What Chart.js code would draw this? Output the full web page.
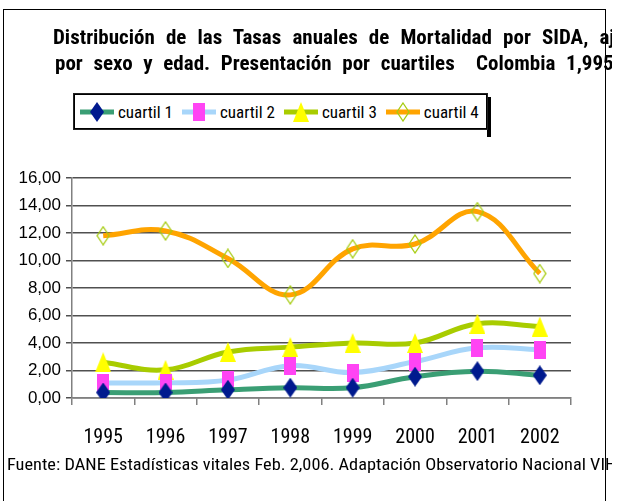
<!DOCTYPE html>
<html>
<head>
<meta charset="utf-8">
<script src="https://cdn.jsdelivr.net/npm/chart.js@4.4.1/dist/chart.umd.min.js"></script>
<style>
  body { margin: 0; background: #fff; }
  #wrap { position: relative; width: 617px; height: 501px; overflow: hidden; }
  #c { position: absolute; left: 0; top: 0; }
  #frame { position: absolute; left: 3px; top: 9px; width: 603px; height: 500px; box-sizing: border-box;
           border: 1px solid #000; pointer-events: none; }
  #clip { position: absolute; left: 0; top: 0; width: 612px; height: 501px; overflow: hidden; pointer-events: none; }
  .title { position: absolute; white-space: nowrap; font: bold 21px "Roboto Condensed", sans-serif; color: #000; }
  #foot { position: absolute; left: 7px; top: 454px; white-space: nowrap; font: 17px "Roboto Condensed", sans-serif;
          transform-origin: 0 0; }
  #legshadow { position: absolute; left: 487px; top: 97px; width: 4px; height: 40px; background: #000; }
  #legout { position: absolute; left: 74px; top: 94px; width: 413px; height: 35px; background: #000;
            outline: 1px solid #222; }
  #legend { position: absolute; left: 1px; top: 1px; right: 1px; bottom: 1px; background: #fff; overflow: hidden;
            display: flex; align-items: center; padding-left: 5px; }
  .item { display: flex; align-items: center; margin-right: 9px; flex-shrink: 0; }
  .item span { font: 17px "Roboto Condensed", sans-serif; margin-left: 4px; white-space: nowrap; }
</style>
</head>
<body>
<div id="wrap">
  <canvas id="c" width="617" height="501"></canvas>
  <div id="frame"></div>
  <div id="legshadow"></div>
  <div id="legout"><div id="legend"></div></div>
  <div id="clip">
    <div class="title" id="t1" style="left:53px; top:25px;">Distribución de las Tasas anuales de Mortalidad por SIDA, ajustadas</div>
    <div class="title" id="t2" style="left:55px; top:51px;">por sexo y edad. Presentación por cuartiles&nbsp; Colombia 1,995 - 2,002</div>
    <div id="foot">Fuente: DANE Estadísticas vitales Feb. 2,006. Adaptación Observatorio Nacional VIH</div>
  </div>
</div>
<script>
const years = ['1995', '1996', '1997', '1998', '1999', '2000', '2001', '2002'];
const cuartil1 = [0.4, 0.4, 0.6, 0.75, 0.75, 1.55, 1.95, 1.65];
const cuartil2 = [1.1, 1.1, 1.3, 2.35, 1.85, 2.65, 3.65, 3.5];
const cuartil3 = [2.6, 2.05, 3.35, 3.7, 4.0, 4.0, 5.4, 5.2];
const cuartil4 = [11.8, 12.15, 10.15, 7.5, 10.85, 11.2, 13.55, 9.05];
const yTicks = [0, 2, 4, 6, 8, 10, 12, 14, 16];

// stretch the title lines / footnote the way the original text box spreads them
const mc = document.createElement('canvas').getContext('2d');
function spread(el, prefix, target) {
  const cs = getComputedStyle(el);
  mc.font = cs.fontWeight + ' ' + cs.fontSize + ' ' + cs.fontFamily;
  const w = mc.measureText(prefix).width;
  const gaps = prefix.split(' ').length - 1;
  el.style.wordSpacing = ((target - w) / gaps).toFixed(2) + 'px';
}
spread(document.getElementById('t1'), 'Distribución de las Tasas anuales de Mortalidad por SIDA, ', 547);
spread(document.getElementById('t2'), 'por sexo y edad. Presentación por cuartiles  Colombia 1,99', 548);
(function () {
  const el = document.getElementById('foot');
  mc.font = '17px "Roboto Condensed"';
  const w = mc.measureText('Fuente: DANE Estadísticas vitales Feb. 2,006. Adaptación Observatorio Nacional ').width;
  el.style.transform = 'scaleX(' + (583 / w).toFixed(3) + ')';
})();

function marker(w, h, draw) {
  const c = document.createElement('canvas');
  c.width = w; c.height = h;
  draw(c.getContext('2d'), w, h);
  return c;
}
function diamondPath(g, w, h, i) {
  g.beginPath();
  g.moveTo(w / 2, i); g.lineTo(w - i, h / 2); g.lineTo(w / 2, h - i); g.lineTo(i, h / 2);
  g.closePath();
}
const mDiamond = marker(14, 20, (g, w, h) => { diamondPath(g, w, h, 0); g.fillStyle = '#001a8e'; g.fill(); });
const mSquare = marker(12, 18, (g, w, h) => { g.fillStyle = '#ff44f4'; g.fillRect(0, 0, w, h); });
const mTri = marker(16, 20, (g, w, h) => {
  g.beginPath(); g.moveTo(w / 2, 0); g.lineTo(w, h); g.lineTo(0, h); g.closePath();
  g.fillStyle = '#ffff00'; g.fill();
});
const mHollow = marker(14, 20, (g, w, h) => { diamondPath(g, w, h, 1); g.strokeStyle = '#a6cc10'; g.lineWidth = 1.3; g.stroke(); });

const series = [
  { label: 'cuartil 1', data: cuartil1, color: '#3a9e74', mark: mDiamond },
  { label: 'cuartil 2', data: cuartil2, color: '#a8d6fa', mark: mSquare },
  { label: 'cuartil 3', data: cuartil3, color: '#a8cc00', mark: mTri },
  { label: 'cuartil 4', data: cuartil4, color: '#ffa400', mark: mHollow }
];

// legend in html
const legend = document.getElementById('legend');
series.forEach(s => {
  const item = document.createElement('div');
  item.className = 'item';
  const ic = document.createElement('canvas');
  ic.width = 34; ic.height = 24;
  const g = ic.getContext('2d');
  g.strokeStyle = s.color; g.lineWidth = 5;
  g.beginPath(); g.moveTo(0, 12); g.lineTo(34, 12); g.stroke();
  g.drawImage(s.mark, 17 - s.mark.width / 2, 12 - s.mark.height / 2);
  const t = document.createElement('span');
  t.textContent = s.label;
  item.appendChild(ic); item.appendChild(t);
  legend.appendChild(item);
});

new Chart(document.getElementById('c'), {
  type: 'line',
  data: {
    labels: years,
    datasets: series.map(s => ({
      label: s.label,
      data: s.data,
      borderColor: s.color,
      borderWidth: 5,
      tension: 0.4,
      pointStyle: s.mark,
      pointRadius: 6,
      pointHoverRadius: 6,
      fill: false
    }))
  },
  options: {
    responsive: false,
    animation: false,
    layout: { padding: { left: 0, top: 178, right: 46, bottom: 53 } },
    plugins: { legend: { display: false }, tooltip: { enabled: false } },
    scales: {
      x: {
        offset: true,
        grid: { offset: true, drawOnChartArea: false, drawTicks: true, tickLength: 7, color: '#808080', lineWidth: 1.5 },
        border: { color: '#808080', width: 1.5 },
        ticks: { color: '#000', padding: 21, font: { family: 'Roboto Condensed', size: 20 }, maxRotation: 0 },
        afterFit: sc => { sc.height = 50; }
      },
      y: {
        min: 0, max: 16,
        afterBuildTicks: sc => { sc.ticks = yTicks.map(v => ({ value: v })); },
        grid: { color: '#505050', lineWidth: 1.5, tickLength: 6 },
        border: { color: '#808080', width: 1.5 },
        ticks: {
          color: '#000', padding: 5,
          font: { family: 'Liberation Sans', size: 17 },
          callback: v => v.toFixed(2).replace('.', ',')
        },
        afterFit: sc => { sc.width = 72; }
      }
    }
  }
});
</script>
</body>
</html>
